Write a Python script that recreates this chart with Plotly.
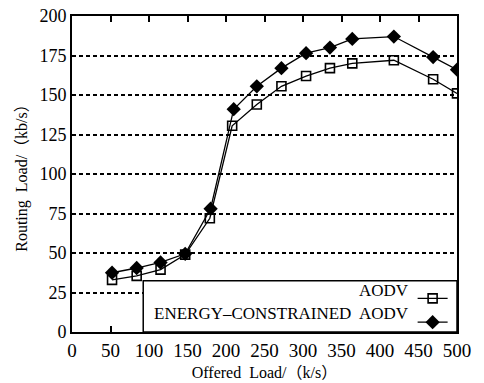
import plotly.graph_objects as go

offered = [52, 84, 115, 147, 179, 208, 240, 272, 304, 335, 364, 418, 469, 500]
aodv = [33, 35.5, 39.5, 49, 72, 130.5, 144, 155.5, 162, 167, 170, 172, 160, 151]
offered_ec = [52, 84, 115, 147, 180, 210, 240, 272, 304, 335, 364, 418, 469, 500]
energy = [37.5, 40.5, 44, 49.5, 78, 141, 155.5, 167, 176.5, 180, 185.5, 187, 174, 166]
names = ["AODV", "ENERGY\u2013CONSTRAINED  AODV"]

SERIF = "Liberation Serif"
LP = "<span style='font-family:Noto Sans CJK SC'>（</span>"
RP = "<span style='font-family:Noto Sans CJK SC'>）</span>"

fig = go.Figure()
fig.add_trace(go.Scatter(x=offered, y=aodv, mode="lines+markers", name="",
                         line=dict(color="black", width=1.3),
                         marker=dict(symbol="square-open", size=9, color="black",
                                     line=dict(width=1.6))))
fig.add_trace(go.Scatter(x=offered_ec, y=energy, mode="lines+markers", name=" ",
                         line=dict(color="black", width=1.3),
                         marker=dict(symbol="diamond", size=11, color="black")))

# legend box
fig.add_shape(type="rect", xref="paper", yref="paper", x0=0.185, x1=1.0, y0=0.0, y1=0.162,
              fillcolor="white", line=dict(color="black", width=1.5), layer="above")
fig.add_annotation(xref="paper", yref="paper", x=0.88, y=0.132, xanchor="right", yanchor="middle",
                   text=names[0], showarrow=False, font=dict(family=SERIF, size=17, color="black"))
fig.add_annotation(xref="paper", yref="paper", x=0.88, y=0.058, xanchor="right", yanchor="middle",
                   text=names[1], showarrow=False, font=dict(family=SERIF, size=17, color="black"))

fig.update_layout(
    width=484, height=383,
    margin=dict(l=72, r=27, t=16, b=51),
    paper_bgcolor="white", plot_bgcolor="white",
    font=dict(family=SERIF, size=17, color="black"),
    showlegend=True,
    legend=dict(x=1.012, xanchor="right", y=0.16, yanchor="top", bgcolor="rgba(0,0,0,0)",
                borderwidth=0, font=dict(family=SERIF, size=16), itemwidth=30, tracegroupgap=0),
)
fig.update_xaxes(range=[0, 500], tickvals=list(range(0, 501, 50)), ticks="inside", ticklen=6,
                 tickwidth=1.5, tickcolor="black", showline=True, linecolor="black", linewidth=2,
                 mirror="ticks", showgrid=False, zeroline=False, automargin=False,
                 tickfont=dict(family=SERIF, size=19),
                 title=dict(text="Offered  Load/" + LP + "k/s" + RP,
                            font=dict(family=SERIF, size=16), standoff=13))
fig.update_yaxes(range=[0, 200], tickvals=list(range(0, 201, 25)), ticks="", showline=True,
                 linecolor="black", linewidth=2, mirror=True, showgrid=True, gridcolor="black",
                 gridwidth=1.5, griddash="4px,3px", zeroline=False, automargin=False,
                 tickfont=dict(family=SERIF, size=18),
                 title=dict(text="Routing  Load/" + LP + "kb/s" + RP,
                            font=dict(family=SERIF, size=16), standoff=8))

fig.write_html("out.html")
